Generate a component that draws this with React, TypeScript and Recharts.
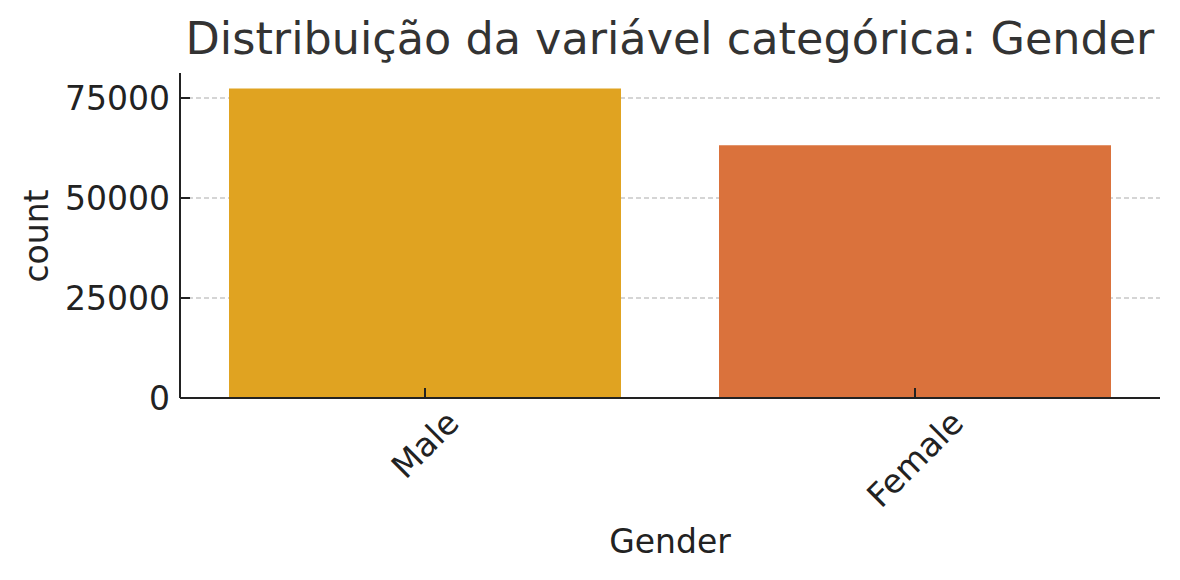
import { BarChart, Bar, XAxis, YAxis, CartesianGrid, Cell } from 'recharts'

const categories = ['Male', 'Female']
const counts = [77400, 63200]
const barColors = ['#E0A321', '#DA723C']
const yTicks = [0, 25000, 50000, 75000]
const gridValues = [25000, 50000, 75000]

const data = categories.map((gender, i) => ({ gender, count: counts[i] }))

const FONT = '"DejaVu Sans", sans-serif'
const INK = '#222'
const SIZE = 33

let ctx: CanvasRenderingContext2D | null = null
function textWidth(text: string, size: number) {
  if (!ctx) ctx = document.createElement('canvas').getContext('2d')
  if (!ctx) return text.length * size * 0.6
  ctx.font = `${size}px "DejaVu Sans"`
  return ctx.measureText(text).width
}

// matplotlib style: rotated 45deg, centred under the tick, top of the box at y
function XTick({ x, y, payload }: any) {
  const w = textWidth(String(payload.value), SIZE)
  const cy = y + (w + SIZE * 1.1) * 0.3536
  return (
    <text
      x={x}
      y={cy}
      textAnchor="middle"
      dominantBaseline="central"
      transform={`rotate(-45, ${x}, ${cy})`}
      fontFamily={FONT}
      fontSize={SIZE}
      fill={INK}
    >
      {payload.value}
    </text>
  )
}

export default function App() {
  document.body.style.margin = '0'
  return (
    <div style={{ position: 'relative', width: 1180, height: 580, background: '#fff', fontFamily: FONT }}>
      <div
        style={{
          position: 'absolute',
          left: 180,
          width: 980,
          top: 13,
          textAlign: 'center',
          fontSize: 44.5,
          color: '#333',
          whiteSpace: 'nowrap',
        }}
      >
        Distribuição da variável categórica: Gender
      </div>
      <BarChart
        width={1180}
        height={580}
        data={data}
        margin={{ top: 73, right: 20, bottom: 0, left: 0 }}
        barCategoryGap="10%"
        style={{ position: 'absolute', left: 0, top: 0 }}
      >
        <CartesianGrid
          vertical={false}
          horizontalValues={gridValues}
          stroke="#c8c8c8"
          strokeDasharray="5 3"
          strokeWidth={1.5}
        />
        <XAxis
          dataKey="gender"
          height={182}
          tick={<XTick />}
          tickSize={-10}
          tickMargin={16}
          axisLine={{ stroke: INK, strokeWidth: 2 }}
          tickLine={{ stroke: INK, strokeWidth: 2 }}
          label={{
            content: () => (
              <text x={670} y={553} textAnchor="middle" fontFamily={FONT} fontSize={SIZE} fill={INK}>
                Gender
              </text>
            ),
          }}
        />
        <YAxis
          width={180}
          domain={[0, 81250]}
          ticks={yTicks}
          interval={0}
          tickSize={-10}
          tickMargin={20}
          axisLine={{ stroke: INK, strokeWidth: 2 }}
          tickLine={{ stroke: INK, strokeWidth: 2 }}
          tick={{ fontFamily: FONT, fontSize: SIZE, fill: INK }}
          label={{
            content: () => (
              <text
                x={48}
                y={236}
                textAnchor="middle"
                transform="rotate(-90, 48, 236)"
                fontFamily={FONT}
                fontSize={SIZE}
                fill={INK}
              >
                count
              </text>
            ),
          }}
        />
        <Bar dataKey="count" isAnimationActive={false}>
          {data.map((d, i) => (
            <Cell key={d.gender} fill={barColors[i]} />
          ))}
        </Bar>
      </BarChart>
    </div>
  )
}
